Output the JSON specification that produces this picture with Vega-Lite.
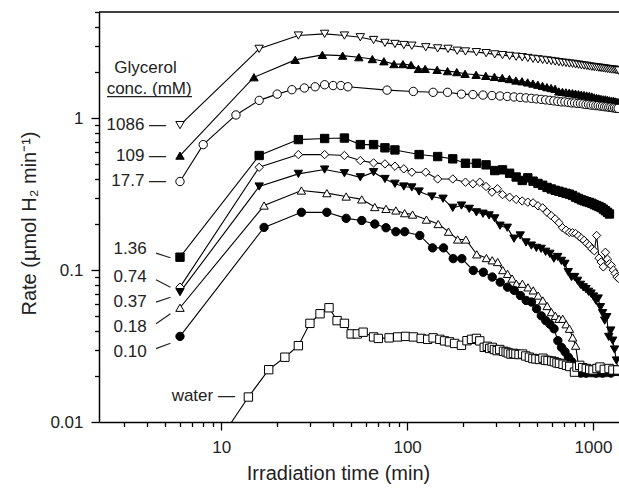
{
"$schema": "https://vega.github.io/schema/vega-lite/v6.json",
"width": 520, "height": 410, "autosize": "none",
"padding": {"left": 99, "top": 12, "right": 0, "bottom": 67},
"background": "white",
"config": {"view": {"stroke": null}, "font": "Liberation Sans",
  "axis": {"domainColor": "black", "domainWidth": 1.5, "tickColor": "black", "tickWidth": 1.3, "labelColor": "#222", "labelFontSize": 17, "titleColor": "#222", "titleFontSize": 20, "titleFontWeight": "normal", "grid": false, "labelOverlap": false, "labelFlush": false, "labelBound": false}},
"datasets": {
"series": [
{"g":"1086","t":6,"r":0.9},{"g":"1086","t":16,"r":2.86},{"g":"1086","t":26,"r":3.5},{"g":"1086","t":36,"r":3.59},{"g":"1086","t":46,"r":3.5},{"g":"1086","t":56,"r":3.41},{"g":"1086","t":66,"r":3.27},{"g":"1086","t":76,"r":3.13},{"g":"1086","t":86,"r":3.08},{"g":"1086","t":96,"r":3.03},{"g":"1086","t":106,"r":3.0},{"g":"1086","t":126,"r":2.93},{"g":"1086","t":146,"r":2.88},{"g":"1086","t":166,"r":2.86},{"g":"1086","t":186,"r":2.78},{"g":"1086","t":206,"r":2.75},{"g":"1086","t":236,"r":2.72},{"g":"1086","t":266,"r":2.68},{"g":"1086","t":296,"r":2.63},{"g":"1086","t":326,"r":2.6},{"g":"1086","t":356,"r":2.57},{"g":"1086","t":386,"r":2.54},{"g":"1086","t":416,"r":2.52},{"g":"1086","t":446,"r":2.49},{"g":"1086","t":476,"r":2.46},{"g":"1086","t":506,"r":2.44},{"g":"1086","t":536,"r":2.42},{"g":"1086","t":566,"r":2.4},{"g":"1086","t":596,"r":2.38},{"g":"1086","t":626,"r":2.36},{"g":"1086","t":656,"r":2.34},{"g":"1086","t":686,"r":2.32},{"g":"1086","t":716,"r":2.31},{"g":"1086","t":746,"r":2.29},{"g":"1086","t":776,"r":2.28},{"g":"1086","t":806,"r":2.26},{"g":"1086","t":836,"r":2.25},{"g":"1086","t":866,"r":2.23},{"g":"1086","t":896,"r":2.22},{"g":"1086","t":926,"r":2.21},{"g":"1086","t":956,"r":2.19},{"g":"1086","t":986,"r":2.18},{"g":"1086","t":1016,"r":2.17},{"g":"1086","t":1046,"r":2.16},{"g":"1086","t":1076,"r":2.15},{"g":"1086","t":1106,"r":2.14},{"g":"1086","t":1136,"r":2.13},{"g":"1086","t":1166,"r":2.12},{"g":"1086","t":1196,"r":2.11},{"g":"1086","t":1226,"r":2.1},{"g":"1086","t":1256,"r":2.09},{"g":"1086","t":1286,"r":2.09},{"g":"1086","t":1316,"r":2.08},{"g":"1086","t":1346,"r":2.07},{"g":"1086","t":1376,"r":2.06},
{"g":"109","t":6,"r":0.567},{"g":"109","t":15,"r":1.86},{"g":"109","t":25,"r":2.42},{"g":"109","t":35,"r":2.61},{"g":"109","t":45,"r":2.58},{"g":"109","t":55,"r":2.52},{"g":"109","t":65,"r":2.45},{"g":"109","t":75,"r":2.37},{"g":"109","t":85,"r":2.27},{"g":"109","t":95,"r":2.27},{"g":"109","t":105,"r":2.24},{"g":"109","t":115,"r":2.11},{"g":"109","t":125,"r":2.11},{"g":"109","t":145,"r":2.08},{"g":"109","t":165,"r":2.04},{"g":"109","t":185,"r":2.01},{"g":"109","t":205,"r":1.96},{"g":"109","t":235,"r":1.93},{"g":"109","t":265,"r":1.9},{"g":"109","t":295,"r":1.87},{"g":"109","t":325,"r":1.84},{"g":"109","t":355,"r":1.81},{"g":"109","t":385,"r":1.77},{"g":"109","t":415,"r":1.75},{"g":"109","t":445,"r":1.72},{"g":"109","t":475,"r":1.69},{"g":"109","t":505,"r":1.66},{"g":"109","t":535,"r":1.63},{"g":"109","t":565,"r":1.6},{"g":"109","t":595,"r":1.58},{"g":"109","t":625,"r":1.56},{"g":"109","t":655,"r":1.5},{"g":"109","t":685,"r":1.49},{"g":"109","t":715,"r":1.48},{"g":"109","t":745,"r":1.47},{"g":"109","t":775,"r":1.46},{"g":"109","t":805,"r":1.45},{"g":"109","t":835,"r":1.44},{"g":"109","t":865,"r":1.43},{"g":"109","t":895,"r":1.42},{"g":"109","t":925,"r":1.41},{"g":"109","t":955,"r":1.4},{"g":"109","t":985,"r":1.39},{"g":"109","t":1015,"r":1.37},{"g":"109","t":1045,"r":1.36},{"g":"109","t":1075,"r":1.35},{"g":"109","t":1105,"r":1.34},{"g":"109","t":1135,"r":1.33},{"g":"109","t":1165,"r":1.33},{"g":"109","t":1195,"r":1.32},{"g":"109","t":1225,"r":1.31},{"g":"109","t":1255,"r":1.3},{"g":"109","t":1285,"r":1.3},{"g":"109","t":1315,"r":1.29},{"g":"109","t":1345,"r":1.28},{"g":"109","t":1375,"r":1.27},
{"g":"17.7","t":6,"r":0.383},{"g":"17.7","t":8,"r":0.67},{"g":"17.7","t":12,"r":1.05},{"g":"17.7","t":16,"r":1.31},{"g":"17.7","t":20,"r":1.44},{"g":"17.7","t":24,"r":1.54},{"g":"17.7","t":28,"r":1.58},{"g":"17.7","t":32,"r":1.61},{"g":"17.7","t":36,"r":1.66},{"g":"17.7","t":40,"r":1.64},{"g":"17.7","t":44,"r":1.64},{"g":"17.7","t":48,"r":1.61},{"g":"17.7","t":78,"r":1.53},{"g":"17.7","t":108,"r":1.5},{"g":"17.7","t":138,"r":1.48},{"g":"17.7","t":165,"r":1.48},{"g":"17.7","t":196,"r":1.44},{"g":"17.7","t":226,"r":1.43},{"g":"17.7","t":256,"r":1.42},{"g":"17.7","t":286,"r":1.41},{"g":"17.7","t":316,"r":1.4},{"g":"17.7","t":346,"r":1.39},{"g":"17.7","t":376,"r":1.38},{"g":"17.7","t":406,"r":1.37},{"g":"17.7","t":436,"r":1.36},{"g":"17.7","t":466,"r":1.35},{"g":"17.7","t":496,"r":1.34},{"g":"17.7","t":526,"r":1.33},{"g":"17.7","t":556,"r":1.32},{"g":"17.7","t":586,"r":1.31},{"g":"17.7","t":616,"r":1.3},{"g":"17.7","t":646,"r":1.29},{"g":"17.7","t":676,"r":1.28},{"g":"17.7","t":706,"r":1.28},{"g":"17.7","t":736,"r":1.27},{"g":"17.7","t":766,"r":1.26},{"g":"17.7","t":796,"r":1.26},{"g":"17.7","t":826,"r":1.25},{"g":"17.7","t":856,"r":1.25},{"g":"17.7","t":886,"r":1.24},{"g":"17.7","t":916,"r":1.23},{"g":"17.7","t":946,"r":1.23},{"g":"17.7","t":976,"r":1.22},{"g":"17.7","t":1006,"r":1.22},{"g":"17.7","t":1036,"r":1.21},{"g":"17.7","t":1066,"r":1.21},{"g":"17.7","t":1096,"r":1.2},{"g":"17.7","t":1126,"r":1.2},{"g":"17.7","t":1156,"r":1.19},{"g":"17.7","t":1186,"r":1.19},{"g":"17.7","t":1216,"r":1.18},{"g":"17.7","t":1246,"r":1.18},{"g":"17.7","t":1276,"r":1.17},{"g":"17.7","t":1306,"r":1.17},{"g":"17.7","t":1336,"r":1.16},{"g":"17.7","t":1366,"r":1.16},
{"g":"1.36","t":6,"r":0.1216},{"g":"1.36","t":16,"r":0.568},{"g":"1.36","t":26,"r":0.723},{"g":"1.36","t":36,"r":0.735},{"g":"1.36","t":46,"r":0.74},{"g":"1.36","t":56,"r":0.67},{"g":"1.36","t":66,"r":0.67},{"g":"1.36","t":76,"r":0.638},{"g":"1.36","t":86,"r":0.618},{"g":"1.36","t":116,"r":0.576},{"g":"1.36","t":146,"r":0.559},{"g":"1.36","t":176,"r":0.54},{"g":"1.36","t":206,"r":0.505},{"g":"1.36","t":236,"r":0.505},{"g":"1.36","t":266,"r":0.493},{"g":"1.36","t":296,"r":0.452},{"g":"1.36","t":326,"r":0.457},{"g":"1.36","t":356,"r":0.434},{"g":"1.36","t":386,"r":0.41},{"g":"1.36","t":416,"r":0.389},{"g":"1.36","t":446,"r":0.405},{"g":"1.36","t":476,"r":0.385},{"g":"1.36","t":506,"r":0.372},{"g":"1.36","t":536,"r":0.362},{"g":"1.36","t":566,"r":0.35},{"g":"1.36","t":596,"r":0.342},{"g":"1.36","t":626,"r":0.335},{"g":"1.36","t":656,"r":0.33},{"g":"1.36","t":686,"r":0.325},{"g":"1.36","t":716,"r":0.32},{"g":"1.36","t":746,"r":0.316},{"g":"1.36","t":776,"r":0.31},{"g":"1.36","t":806,"r":0.302},{"g":"1.36","t":836,"r":0.296},{"g":"1.36","t":866,"r":0.29},{"g":"1.36","t":896,"r":0.286},{"g":"1.36","t":926,"r":0.282},{"g":"1.36","t":956,"r":0.279},{"g":"1.36","t":986,"r":0.275},{"g":"1.36","t":1016,"r":0.27},{"g":"1.36","t":1046,"r":0.266},{"g":"1.36","t":1076,"r":0.262},{"g":"1.36","t":1106,"r":0.258},{"g":"1.36","t":1136,"r":0.252},{"g":"1.36","t":1166,"r":0.246},{"g":"1.36","t":1196,"r":0.24},{"g":"1.36","t":1226,"r":0.234},
{"g":"0.74","t":6,"r":0.0772},{"g":"0.74","t":16,"r":0.475},{"g":"0.74","t":26,"r":0.576},{"g":"0.74","t":36,"r":0.576},{"g":"0.74","t":46,"r":0.568},{"g":"0.74","t":56,"r":0.526},{"g":"0.74","t":66,"r":0.508},{"g":"0.74","t":76,"r":0.5},{"g":"0.74","t":86,"r":0.483},{"g":"0.74","t":96,"r":0.464},{"g":"0.74","t":106,"r":0.441},{"g":"0.74","t":126,"r":0.441},{"g":"0.74","t":146,"r":0.398},{"g":"0.74","t":176,"r":0.398},{"g":"0.74","t":206,"r":0.379},{"g":"0.74","t":226,"r":0.37},{"g":"0.74","t":246,"r":0.379},{"g":"0.74","t":266,"r":0.355},{"g":"0.74","t":286,"r":0.326},{"g":"0.74","t":306,"r":0.343},{"g":"0.74","t":326,"r":0.314},{"g":"0.74","t":356,"r":0.302},{"g":"0.74","t":386,"r":0.292},{"g":"0.74","t":416,"r":0.285},{"g":"0.74","t":446,"r":0.28},{"g":"0.74","t":476,"r":0.277},{"g":"0.74","t":506,"r":0.265},{"g":"0.74","t":536,"r":0.257},{"g":"0.74","t":566,"r":0.24},{"g":"0.74","t":596,"r":0.228},{"g":"0.74","t":626,"r":0.217},{"g":"0.74","t":656,"r":0.205},{"g":"0.74","t":686,"r":0.19},{"g":"0.74","t":716,"r":0.183},{"g":"0.74","t":746,"r":0.177},{"g":"0.74","t":776,"r":0.176},{"g":"0.74","t":806,"r":0.174},{"g":"0.74","t":836,"r":0.168},{"g":"0.74","t":866,"r":0.162},{"g":"0.74","t":896,"r":0.157},{"g":"0.74","t":926,"r":0.15},{"g":"0.74","t":956,"r":0.145},{"g":"0.74","t":986,"r":0.138},{"g":"0.74","t":1016,"r":0.134},{"g":"0.74","t":1046,"r":0.169},{"g":"0.74","t":1076,"r":0.12},{"g":"0.74","t":1106,"r":0.113},{"g":"0.74","t":1136,"r":0.105},{"g":"0.74","t":1166,"r":0.131},{"g":"0.74","t":1196,"r":0.118},{"g":"0.74","t":1226,"r":0.11},{"g":"0.74","t":1256,"r":0.107},{"g":"0.74","t":1286,"r":0.1},{"g":"0.74","t":1316,"r":0.095},{"g":"0.74","t":1346,"r":0.09},{"g":"0.74","t":1376,"r":0.088},
{"g":"0.37","t":6,"r":0.0716},{"g":"0.37","t":16,"r":0.355},{"g":"0.37","t":26,"r":0.43},{"g":"0.37","t":36,"r":0.459},{"g":"0.37","t":46,"r":0.434},{"g":"0.37","t":56,"r":0.408},{"g":"0.37","t":66,"r":0.441},{"g":"0.37","t":76,"r":0.398},{"g":"0.37","t":86,"r":0.37},{"g":"0.37","t":96,"r":0.355},{"g":"0.37","t":106,"r":0.35},{"g":"0.37","t":116,"r":0.329},{"g":"0.37","t":136,"r":0.305},{"g":"0.37","t":156,"r":0.295},{"g":"0.37","t":176,"r":0.257},{"g":"0.37","t":196,"r":0.266},{"g":"0.37","t":216,"r":0.253},{"g":"0.37","t":236,"r":0.24},{"g":"0.37","t":256,"r":0.235},{"g":"0.37","t":276,"r":0.229},{"g":"0.37","t":296,"r":0.219},{"g":"0.37","t":316,"r":0.196},{"g":"0.37","t":346,"r":0.19},{"g":"0.37","t":376,"r":0.161},{"g":"0.37","t":406,"r":0.169},{"g":"0.37","t":436,"r":0.152},{"g":"0.37","t":466,"r":0.145},{"g":"0.37","t":496,"r":0.14},{"g":"0.37","t":526,"r":0.138},{"g":"0.37","t":556,"r":0.132},{"g":"0.37","t":586,"r":0.128},{"g":"0.37","t":616,"r":0.119},{"g":"0.37","t":646,"r":0.122},{"g":"0.37","t":676,"r":0.115},{"g":"0.37","t":706,"r":0.11},{"g":"0.37","t":736,"r":0.097},{"g":"0.37","t":766,"r":0.09},{"g":"0.37","t":796,"r":0.09},{"g":"0.37","t":826,"r":0.085},{"g":"0.37","t":856,"r":0.08},{"g":"0.37","t":886,"r":0.077},{"g":"0.37","t":916,"r":0.075},{"g":"0.37","t":946,"r":0.072},{"g":"0.37","t":976,"r":0.07},{"g":"0.37","t":1006,"r":0.067},{"g":"0.37","t":1036,"r":0.063},{"g":"0.37","t":1066,"r":0.065},{"g":"0.37","t":1096,"r":0.057},{"g":"0.37","t":1126,"r":0.052},{"g":"0.37","t":1156,"r":0.0465},{"g":"0.37","t":1186,"r":0.049},{"g":"0.37","t":1216,"r":0.0363},{"g":"0.37","t":1246,"r":0.04},{"g":"0.37","t":1276,"r":0.0343},{"g":"0.37","t":1306,"r":0.03},{"g":"0.37","t":1336,"r":0.0254},{"g":"0.37","t":1366,"r":0.022},
{"g":"0.18","t":6,"r":0.0565},{"g":"0.18","t":17,"r":0.266},{"g":"0.18","t":27,"r":0.334},{"g":"0.18","t":37,"r":0.321},{"g":"0.18","t":47,"r":0.305},{"g":"0.18","t":57,"r":0.292},{"g":"0.18","t":67,"r":0.26},{"g":"0.18","t":77,"r":0.253},{"g":"0.18","t":87,"r":0.247},{"g":"0.18","t":97,"r":0.237},{"g":"0.18","t":107,"r":0.232},{"g":"0.18","t":127,"r":0.215},{"g":"0.18","t":147,"r":0.201},{"g":"0.18","t":167,"r":0.179},{"g":"0.18","t":187,"r":0.159},{"g":"0.18","t":207,"r":0.159},{"g":"0.18","t":237,"r":0.127},{"g":"0.18","t":267,"r":0.12},{"g":"0.18","t":287,"r":0.116},{"g":"0.18","t":307,"r":0.113},{"g":"0.18","t":327,"r":0.1},{"g":"0.18","t":347,"r":0.0944},{"g":"0.18","t":367,"r":0.088},{"g":"0.18","t":387,"r":0.0813},{"g":"0.18","t":417,"r":0.0813},{"g":"0.18","t":447,"r":0.077},{"g":"0.18","t":477,"r":0.0735},{"g":"0.18","t":507,"r":0.068},{"g":"0.18","t":537,"r":0.0631},{"g":"0.18","t":567,"r":0.058},{"g":"0.18","t":597,"r":0.0529},{"g":"0.18","t":627,"r":0.05},{"g":"0.18","t":657,"r":0.0478},{"g":"0.18","t":687,"r":0.0478},{"g":"0.18","t":717,"r":0.044},{"g":"0.18","t":747,"r":0.0411},{"g":"0.18","t":777,"r":0.036},{"g":"0.18","t":807,"r":0.0318},{"g":"0.18","t":837,"r":0.023},{"g":"0.18","t":867,"r":0.022},{"g":"0.18","t":897,"r":0.021},{"g":"0.18","t":927,"r":0.0225},{"g":"0.18","t":957,"r":0.021},{"g":"0.18","t":987,"r":0.022},{"g":"0.18","t":1017,"r":0.021},{"g":"0.18","t":1047,"r":0.0225},{"g":"0.18","t":1077,"r":0.021},{"g":"0.18","t":1107,"r":0.022},{"g":"0.18","t":1137,"r":0.021},{"g":"0.18","t":1167,"r":0.022},{"g":"0.18","t":1197,"r":0.0215},
{"g":"0.10","t":6,"r":0.0366},{"g":"0.10","t":17,"r":0.191},{"g":"0.10","t":27,"r":0.24},{"g":"0.10","t":37,"r":0.24},{"g":"0.10","t":47,"r":0.219},{"g":"0.10","t":57,"r":0.212},{"g":"0.10","t":67,"r":0.201},{"g":"0.10","t":77,"r":0.19},{"g":"0.10","t":87,"r":0.179},{"g":"0.10","t":97,"r":0.179},{"g":"0.10","t":117,"r":0.169},{"g":"0.10","t":137,"r":0.14},{"g":"0.10","t":157,"r":0.14},{"g":"0.10","t":177,"r":0.119},{"g":"0.10","t":197,"r":0.119},{"g":"0.10","t":227,"r":0.0994},{"g":"0.10","t":257,"r":0.0968},{"g":"0.10","t":287,"r":0.09},{"g":"0.10","t":317,"r":0.0833},{"g":"0.10","t":347,"r":0.0772},{"g":"0.10","t":377,"r":0.0735},{"g":"0.10","t":407,"r":0.068},{"g":"0.10","t":437,"r":0.0631},{"g":"0.10","t":467,"r":0.0616},{"g":"0.10","t":497,"r":0.0557},{"g":"0.10","t":527,"r":0.05},{"g":"0.10","t":557,"r":0.0465},{"g":"0.10","t":587,"r":0.044},{"g":"0.10","t":617,"r":0.0411},{"g":"0.10","t":647,"r":0.0343},{"g":"0.10","t":677,"r":0.031},{"g":"0.10","t":707,"r":0.029},{"g":"0.10","t":737,"r":0.0267},{"g":"0.10","t":767,"r":0.025},{"g":"0.10","t":797,"r":0.0235},{"g":"0.10","t":827,"r":0.022},{"g":"0.10","t":857,"r":0.021},{"g":"0.10","t":887,"r":0.0225},{"g":"0.10","t":917,"r":0.021},{"g":"0.10","t":947,"r":0.022},{"g":"0.10","t":977,"r":0.0215},{"g":"0.10","t":1007,"r":0.022},{"g":"0.10","t":1037,"r":0.021},{"g":"0.10","t":1067,"r":0.0225},{"g":"0.10","t":1097,"r":0.022},{"g":"0.10","t":1127,"r":0.021},{"g":"0.10","t":1157,"r":0.022},{"g":"0.10","t":1187,"r":0.0215},{"g":"0.10","t":1217,"r":0.022},{"g":"0.10","t":1247,"r":0.021},{"g":"0.10","t":1277,"r":0.022},{"g":"0.10","t":1307,"r":0.0215},{"g":"0.10","t":1337,"r":0.022},{"g":"0.10","t":1367,"r":0.0215},
{"g":"water","t":10,"r":0.0079},{"g":"water","t":14,"r":0.0146},{"g":"water","t":18,"r":0.0221},{"g":"water","t":22,"r":0.0267},{"g":"water","t":26,"r":0.0318},{"g":"water","t":30,"r":0.0446},{"g":"water","t":34,"r":0.0516},{"g":"water","t":38,"r":0.0565},{"g":"water","t":42,"r":0.0465},{"g":"water","t":46,"r":0.0446},{"g":"water","t":50,"r":0.038},{"g":"water","t":54,"r":0.038},{"g":"water","t":58,"r":0.039},{"g":"water","t":66,"r":0.0363},{"g":"water","t":70,"r":0.0355},{"g":"water","t":80,"r":0.0358},{"g":"water","t":89,"r":0.0363},{"g":"water","t":98,"r":0.0366},{"g":"water","t":108,"r":0.0363},{"g":"water","t":119,"r":0.0355},{"g":"water","t":129,"r":0.035},{"g":"water","t":138,"r":0.0358},{"g":"water","t":150,"r":0.035},{"g":"water","t":159,"r":0.0342},{"g":"water","t":169,"r":0.0337},{"g":"water","t":180,"r":0.0329},{"g":"water","t":196,"r":0.032},{"g":"water","t":210,"r":0.0343},{"g":"water","t":222,"r":0.035},{"g":"water","t":236,"r":0.0355},{"g":"water","t":246,"r":0.0342},{"g":"water","t":260,"r":0.031},{"g":"water","t":270,"r":0.0315},{"g":"water","t":278,"r":0.0305},{"g":"water","t":287,"r":0.031},{"g":"water","t":295,"r":0.03},{"g":"water","t":305,"r":0.0295},{"g":"water","t":315,"r":0.03},{"g":"water","t":330,"r":0.0292},{"g":"water","t":341,"r":0.0289},{"g":"water","t":350,"r":0.0285},{"g":"water","t":362,"r":0.028},{"g":"water","t":373,"r":0.0283},{"g":"water","t":385,"r":0.028},{"g":"water","t":400,"r":0.0278},{"g":"water","t":418,"r":0.028},{"g":"water","t":435,"r":0.0272},{"g":"water","t":455,"r":0.0267},{"g":"water","t":475,"r":0.0262},{"g":"water","t":493,"r":0.026},{"g":"water","t":515,"r":0.0258},{"g":"water","t":538,"r":0.0263},{"g":"water","t":555,"r":0.0255},{"g":"water","t":573,"r":0.0254},{"g":"water","t":600,"r":0.0252},{"g":"water","t":620,"r":0.0249},{"g":"water","t":640,"r":0.0245},{"g":"water","t":660,"r":0.0243},{"g":"water","t":690,"r":0.024},{"g":"water","t":720,"r":0.0236},{"g":"water","t":750,"r":0.0232},{"g":"water","t":795,"r":0.0213},{"g":"water","t":820,"r":0.023},{"g":"water","t":848,"r":0.0236},{"g":"water","t":880,"r":0.0228},{"g":"water","t":920,"r":0.0225},{"g":"water","t":960,"r":0.0222},{"g":"water","t":1000,"r":0.022},{"g":"water","t":1050,"r":0.0225},{"g":"water","t":1090,"r":0.023},{"g":"water","t":1150,"r":0.0222},{"g":"water","t":1220,"r":0.0225},{"g":"water","t":1280,"r":0.022},{"g":"water","t":1360,"r":0.022}
],
"labels": [
{"lab":"Glycerol","t":5.76,"r":2.15},
{"lab":"conc. (mM)","t":6.93,"r":1.566},
{"lab":"1086 —","t":5.05,"r":0.904},
{"lab":"109 —","t":5.05,"r":0.567},
{"lab":"17.7 —","t":5.05,"r":0.383},
{"lab":"1.36","t":3.97,"r":0.138},
{"lab":"0.74","t":3.97,"r":0.0898},
{"lab":"0.37","t":3.97,"r":0.0615},
{"lab":"0.18","t":3.97,"r":0.0421},
{"lab":"0.10","t":3.97,"r":0.0288},
{"lab":"water —","t":11.85,"r":0.0148}
],
"leaders": [
{"t1":2.43,"t2":6.96,"r1":1.387,"r2":1.387},
{"t1":4.46,"t2":5.33,"r1":0.1292,"r2":0.1205},
{"t1":4.46,"t2":5.33,"r1":0.0863,"r2":0.0772},
{"t1":4.46,"t2":5.33,"r1":0.0615,"r2":0.0663},
{"t1":4.46,"t2":5.33,"r1":0.0443,"r2":0.0516},
{"t1":4.46,"t2":5.33,"r1":0.0304,"r2":0.033}
]
},
"layer": [
{"data": {"name": "series"},
 "mark": {"type": "line", "color": "black", "strokeWidth": 1.1, "clip": true},
 "encoding": {
  "x": {"field": "t", "type": "quantitative",
    "scale": {"type": "log", "domain": [2.2, 1380], "nice": false},
    "axis": {"title": "Irradiation time (min)", "titleX": 239, "titleY": 51, "titleBaseline": "middle", "titleAlign": "center",
      "values": [3,4,5,6,7,8,9,10,20,30,40,50,60,70,80,90,100,200,300,400,500,600,700,800,900,1000],
      "labelExpr": "datum.value == 10 ? '10' : datum.value == 100 ? '100' : datum.value == 1000 ? '1000' : ''",
      "tickSize": {"condition": {"test": "datum.value == 10 || datum.value == 100 || datum.value == 1000", "value": 8}, "value": 4.5},
      "labelPadding": 9}},
  "y": {"field": "r", "type": "quantitative",
    "scale": {"type": "log", "domain": [0.01, 5], "nice": false},
    "axis": {"title": "Rate (µmol H₂ min⁻¹)", "titleX": -70, "titleY": 211, "titleBaseline": "middle", "titleAlign": "center", "titleAngle": -90,
      "values": [0.01,0.02,0.03,0.04,0.05,0.06,0.07,0.08,0.09,0.1,0.2,0.3,0.4,0.5,0.6,0.7,0.8,0.9,1,2,3,4,5],
      "labelExpr": "datum.value == 0.01 ? '0.01' : datum.value == 0.1 ? '0.1' : datum.value == 1 ? '1' : ''",
      "tickSize": {"condition": {"test": "datum.value == 0.01 || datum.value == 0.1 || datum.value == 1", "value": 8}, "value": 4.5},
      "labelPadding": 8}},
  "detail": {"field": "g"}
 }},
{"data": {"name": "series"},
 "mark": {"type": "point", "filled": true, "stroke": "black", "strokeWidth": 1, "opacity": 1, "clip": true},
 "encoding": {
  "x": {"field": "t", "type": "quantitative"},
  "y": {"field": "r", "type": "quantitative"},
  "shape": {"field": "g", "type": "nominal", "legend": null,
    "scale": {"domain": ["1086","109","17.7","1.36","0.74","0.37","0.18","0.10","water"],
      "range": ["triangle-down","triangle-up","circle","square","diamond","triangle-down","triangle-up","circle","square"]}},
  "fill": {"field": "g", "type": "nominal", "legend": null,
    "scale": {"domain": ["1086","109","17.7","1.36","0.74","0.37","0.18","0.10","water"],
      "range": ["white","black","white","black","white","black","white","black","white"]}},
  "size": {"field": "g", "type": "nominal", "legend": null,
    "scale": {"domain": ["1086","109","17.7","1.36","0.74","0.37","0.18","0.10","water"],
      "range": [70,70,50,45,60,70,70,50,45]}}
 }},
{"data": {"name": "leaders"},
 "mark": {"type": "rule", "color": "#222", "strokeWidth": 1.2},
 "encoding": {
  "x": {"field": "t1", "type": "quantitative"},
  "x2": {"field": "t2"},
  "y": {"field": "r1", "type": "quantitative"},
  "y2": {"field": "r2"}
 }},
{"data": {"name": "labels"},
 "mark": {"type": "text", "align": "right", "baseline": "middle", "fontSize": 17, "font": "Liberation Sans", "color": "#222"},
 "encoding": {
  "x": {"field": "t", "type": "quantitative"},
  "y": {"field": "r", "type": "quantitative"},
  "text": {"field": "lab"}
 }},
{"data": {"values": [{"top": 5}]},
 "mark": {"type": "rule", "color": "black", "strokeWidth": 1.5},
 "encoding": {"y": {"field": "top", "type": "quantitative"}}}
]
}
